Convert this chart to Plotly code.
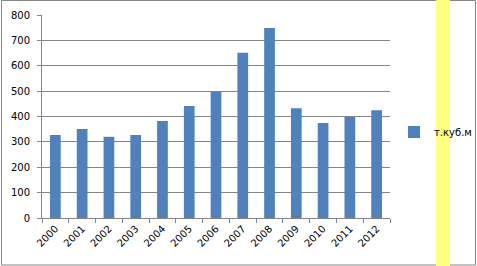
import plotly.graph_objects as go

years = ["2000", "2001", "2002", "2003", "2004", "2005", "2006",
         "2007", "2008", "2009", "2010", "2011", "2012"]
volumes = [327, 351, 320, 327, 382, 441, 498, 651, 749, 433, 374, 398, 425]
series_name = "т.куб.м"
y_ticks = [0, 100, 200, 300, 400, 500, 600, 700, 800]

W, H = 477, 266
L, R, T, B = 42, 87, 15, 48
pw, ph = W - L - R, H - T - B

def px_x(x):
    return (x - L) / pw

def px_y(y):
    return (H - B - y) / ph

fig = go.Figure()
fig.add_trace(go.Bar(x=years, y=volumes, name=series_name,
                     marker=dict(color="#4F81BD", line=dict(width=0))))

grid = "#868686"
fig.update_layout(
    width=W, height=H,
    margin=dict(l=L, r=R, t=T, b=B, pad=0, autoexpand=False),
    paper_bgcolor="white", plot_bgcolor="white",
    font=dict(family="DejaVu Sans", size=10, color="#000000"),
    bargap=0.6,
    showlegend=True,
    legend=dict(x=px_x(394), y=px_y(132), xanchor="left", yanchor="middle",
                bgcolor="rgba(0,0,0,0)", font=dict(size=10),
                borderwidth=0),
    xaxis=dict(type="category", tickangle=-45, showgrid=False,
               showline=True, linecolor=grid, linewidth=1,
               ticks="outside", tickson="boundaries", ticklen=4,
               tickcolor=grid, tickfont=dict(size=10)),
    yaxis=dict(range=[0, 800], tickvals=y_ticks, showgrid=True,
               gridcolor=grid, gridwidth=1, showline=True, linecolor=grid,
               linewidth=1, ticks="outside", ticklen=4, tickcolor=grid,
               zeroline=False, ticklabelstandoff=5, tickfont=dict(size=10)),
    shapes=[
        dict(type="rect", xref="paper", yref="paper",
             x0=px_x(1.5), x1=px_x(475.5), y0=px_y(265), y1=px_y(0.5),
             line=dict(color="#868686", width=1), fillcolor="rgba(0,0,0,0)",
             layer="above"),
        dict(type="rect", xref="paper", yref="paper",
             x0=px_x(436), x1=px_x(450), y0=px_y(266), y1=px_y(0),
             line=dict(width=0), fillcolor="#FFFF80", layer="above"),
    ],
)

fig.write_html("out.html")
